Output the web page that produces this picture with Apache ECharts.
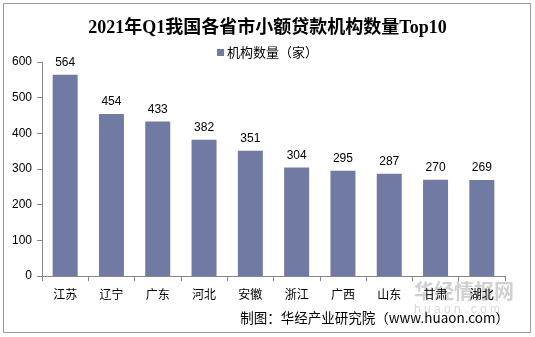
<!DOCTYPE html>
<html><head><meta charset="utf-8">
<script src="https://cdn.jsdelivr.net/npm/echarts@6/dist/echarts.min.js"></script>
<style>html,body{margin:0;padding:0;background:#fff}#c{width:535px;height:337px}</style>
</head><body><div id="c"></div>
<script>
const categories = ['江苏','辽宁','广东','河北','安徽','浙江','广西','山东','甘肃','湖北'];
const values = [564,454,433,382,351,304,295,287,270,269];
const seriesName = '机构数量（家）';
const titleText = '2021年Q1我国各省市小额贷款机构数量Top10';
const sourceText = '制图：华经产业研究院（www.huaon.com）';

const chart = echarts.init(document.getElementById('c'));
chart.setOption({
  animation: false,
  backgroundColor: '#fff',
  title: {
    text: titleText, left: 'center', top: 14,
    textStyle: { fontFamily: '"Liberation Serif","Noto Sans CJK SC",serif', fontWeight: 'bold', fontSize: 18, color: '#000' }
  },
  legend: {
    top: 41, left: 'center', itemWidth: 7, itemHeight: 7, itemGap: 4,
    icon: 'rect',
    textStyle: { fontFamily: '"Noto Sans CJK SC",sans-serif', fontSize: 13, color: '#000', padding: [0,0,0,-2] },
    data: [seriesName]
  },
  grid: { left: 42, right: 30, top: 62, bottom: 61 },
  xAxis: {
    type: 'category', data: categories,
    axisLine: { lineStyle: { color: '#888' } },
    axisTick: { show: true, length: 5, lineStyle: { color: '#888' } },
    axisLabel: { color: '#000', fontSize: 12, margin: 12, fontFamily: '"Noto Sans CJK SC",sans-serif' }
  },
  yAxis: {
    type: 'value', min: 0, max: 600, interval: 100,
    axisLine: { show: true, lineStyle: { color: '#888' } },
    axisTick: { show: true, length: 5, lineStyle: { color: '#888' } },
    splitLine: { show: false },
    axisLabel: { color: '#000', fontSize: 12, margin: 10, fontFamily: '"Liberation Sans",Arial,sans-serif' }
  },
  series: [{
    name: seriesName, type: 'bar', data: values, barWidth: 25,
    itemStyle: { color: '#717AA2' },
    label: { show: true, position: 'top', distance: 6, color: '#000', fontSize: 12, fontFamily: '"Liberation Sans",Arial,sans-serif' }
  }],
  graphic: [
    { type: 'rect', shape: { x: 3.5, y: 3.5, width: 527, height: 329 }, style: { fill: 'none', stroke: '#999', lineWidth: 1 }, silent: true },
    { type: 'text', right: 26, top: 311, style: { text: sourceText, font: '13.5px "Noto Sans CJK SC",sans-serif', fill: '#000' } },
    { type: 'text', left: 414, top: 281, style: { text: '华经情报网', font: 'bold 20px "Noto Sans CJK SC",sans-serif', fill: 'rgba(150,150,150,0.45)' } },
    { type: 'text', left: 414, top: 304, style: { text: 'h u a o n . c o m', font: '12px "Liberation Sans",sans-serif', fill: 'rgba(170,170,170,0.45)' } }
  ]
});
</script></body></html>
